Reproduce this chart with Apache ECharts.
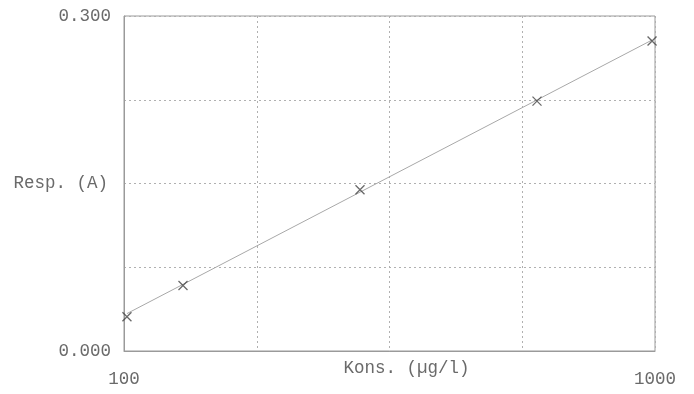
<!DOCTYPE html>
<html>
<head>
<meta charset="utf-8">
<script src="https://cdn.jsdelivr.net/npm/echarts@6/dist/echarts.min.js"></script>
<style>html,body{margin:0;padding:0;background:#fff}#c{width:694px;height:394px}</style>
</head>
<body>
<div id="c"></div>
<script>
// Calibration standards
const concentrations = [105, 200, 500, 800, 995];
const responses = [0.0307, 0.0587, 0.1444, 0.2238, 0.2776];
// Calibration line end points
const fitX = [105, 995];
const fitY = [0.0335, 0.2785];
const xTickLabels = ['100', '1000'];
const yTickLabels = ['0.000', '0.300'];
const xName = 'Kons. (µg/l)';
const yName = 'Resp. (A)';

const font = 'Liberation Mono';
const fs = 17.5;
const txt = '#6a6a6a';
const chart = echarts.init(document.getElementById('c'));
chart.setOption({
  animation: false,
  grid: { left: 124, right: 39, top: 16, bottom: 43, containLabel: false, outerBoundsMode: 'none',
          show: true, borderColor: '#9a9a9a', borderWidth: 1 },
  xAxis: {
    type: 'value', min: 100, max: 1000, interval: 225,
    name: xName, nameLocation: 'middle', nameGap: 8, nameMoveOverlap: false,
    nameTextStyle: { fontFamily: font, fontSize: fs, color: txt, padding: [0, 0, 0, 34] },
    axisLine: { show: true, lineStyle: { color: '#9a9a9a' } },
    axisTick: { show: false },
    splitLine: { show: true, lineStyle: { color: '#b0b0b0', type: [2, 3], width: 1 } },
    axisLabel: {
      fontFamily: font, fontSize: fs, color: txt, margin: 19,
      formatter: v => (v === 100 ? xTickLabels[0] : (v === 1000 ? xTickLabels[1] : ''))
    }
  },
  yAxis: {
    type: 'value', min: 0, max: 0.3, interval: 0.075,
    name: yName, nameLocation: 'middle', nameRotate: 0, nameGap: 16, nameMoveOverlap: false,
    nameTextStyle: { fontFamily: font, fontSize: fs, color: txt, align: 'right', verticalAlign: 'middle' },
    axisLine: { show: true, lineStyle: { color: '#9a9a9a' } },
    axisTick: { show: false },
    splitLine: { show: true, lineStyle: { color: '#b0b0b0', type: [2, 3], width: 1 } },
    axisLabel: {
      fontFamily: font, fontSize: fs, color: txt, margin: 13,
      formatter: v => (Math.abs(v) < 1e-9 ? yTickLabels[0] : (Math.abs(v - 0.3) < 1e-9 ? yTickLabels[1] : ''))
    }
  },
  series: [
    {
      type: 'line', data: fitX.map((x, i) => [x, fitY[i]]),
      showSymbol: false, symbol: 'none',
      lineStyle: { color: '#a8a8a8', width: 1 }, z: 2
    },
    {
      type: 'scatter', data: concentrations.map((x, i) => [x, responses[i]]),
      symbol: 'path://M0,0L10,10M10,0L0,10', symbolSize: 9,
      itemStyle: { color: 'none', borderColor: '#444', borderWidth: 1.3 }, z: 3
    }
  ]
});
</script>
</body>
</html>
